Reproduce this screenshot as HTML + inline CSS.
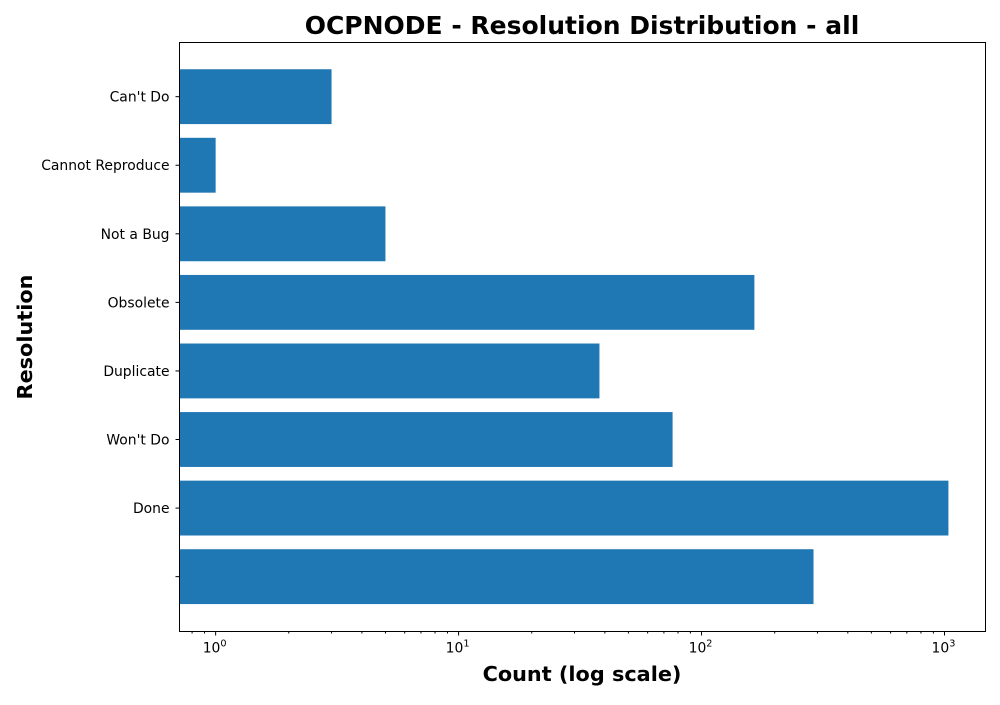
<!DOCTYPE html>
<html><head><meta charset="utf-8"><style>body{margin:0;background:#fff}svg{font-family:"DejaVu Sans","Liberation Sans",sans-serif}</style></head>
<body>
<svg id="chart" width="1000" height="700">
<text x="582" y="34" text-anchor="middle" font-size="25" font-weight="bold">OCPNODE - Resolution Distribution - all</text>
<text x="582" y="681" text-anchor="middle" font-size="20.8" font-weight="bold">Count (log scale)</text>
<text transform="translate(32,337) rotate(-90)" text-anchor="middle" font-size="20.8" font-weight="bold">Resolution</text>
<g id="bars"></g><g id="ticks"></g>
<rect x="179.5" y="42.5" width="806" height="589" fill="none" stroke="#000" stroke-width="1"/>
</svg>
<script>
const categories = ["", "Done", "Won't Do", "Duplicate", "Obsolete", "Not a Bug", "Cannot Reproduce", "Can't Do"];
const counts = [289, 1038, 76, 38, 165, 5, 1, 3];
const xTickExps = [0, 1, 2, 3];
const L=179.5,R=985.5,T=42.5,B=631.5;
const xmin=Math.log10(0.71),xmax=Math.log10(1475);
const xs=v=>L+(Math.log10(v)-xmin)/(xmax-xmin)*(R-L);
const ymin=-0.80,ymax=7.79;
const ys=i=>B-(i-ymin)/(ymax-ymin)*(B-T);
const NS="http://www.w3.org/2000/svg";
const bars=document.getElementById('bars'),ticks=document.getElementById('ticks');
function mk(tag,attrs,parent){const e=document.createElementNS(NS,tag);for(const k in attrs)e.setAttribute(k,attrs[k]);parent.appendChild(e);return e;}
const bh=(ys(0)-ys(0.8));
categories.forEach((c,i)=>{
  const r=mk('rect',{x:L,y:ys(i)-bh/2,width:xs(counts[i])-L,height:bh,fill:'#1f77b4'},bars);
  
  
  const y=ys(i);
  mk('line',{x1:L-4,x2:L,y1:y,y2:y,stroke:'#000'},ticks);
  const t=mk('text',{x:L-10,y:y+5,'text-anchor':'end','font-size':13.9},ticks);
  t.textContent=c;
  
  
});
for(let e=-1;e<=3;e++)for(let m=1;m<10;m++){
  const v=m*Math.pow(10,e);const x=xs(v);
  if(x<L||x>R)continue;
  mk('line',{x1:x,x2:x,y1:B,y2:B+(m===1?4:2),stroke:'#000'},ticks);
}
xTickExps.forEach(e=>{
  const x=xs(Math.pow(10,e));
  const t=mk('text',{x:x-1,y:B+21,'text-anchor':'middle','font-size':13.9},ticks);
  t.textContent='10';
  const s=mk('tspan',{dy:-6,'font-size':9.7},t);s.textContent=String(e);
  
  
});
</script>
</body></html>
